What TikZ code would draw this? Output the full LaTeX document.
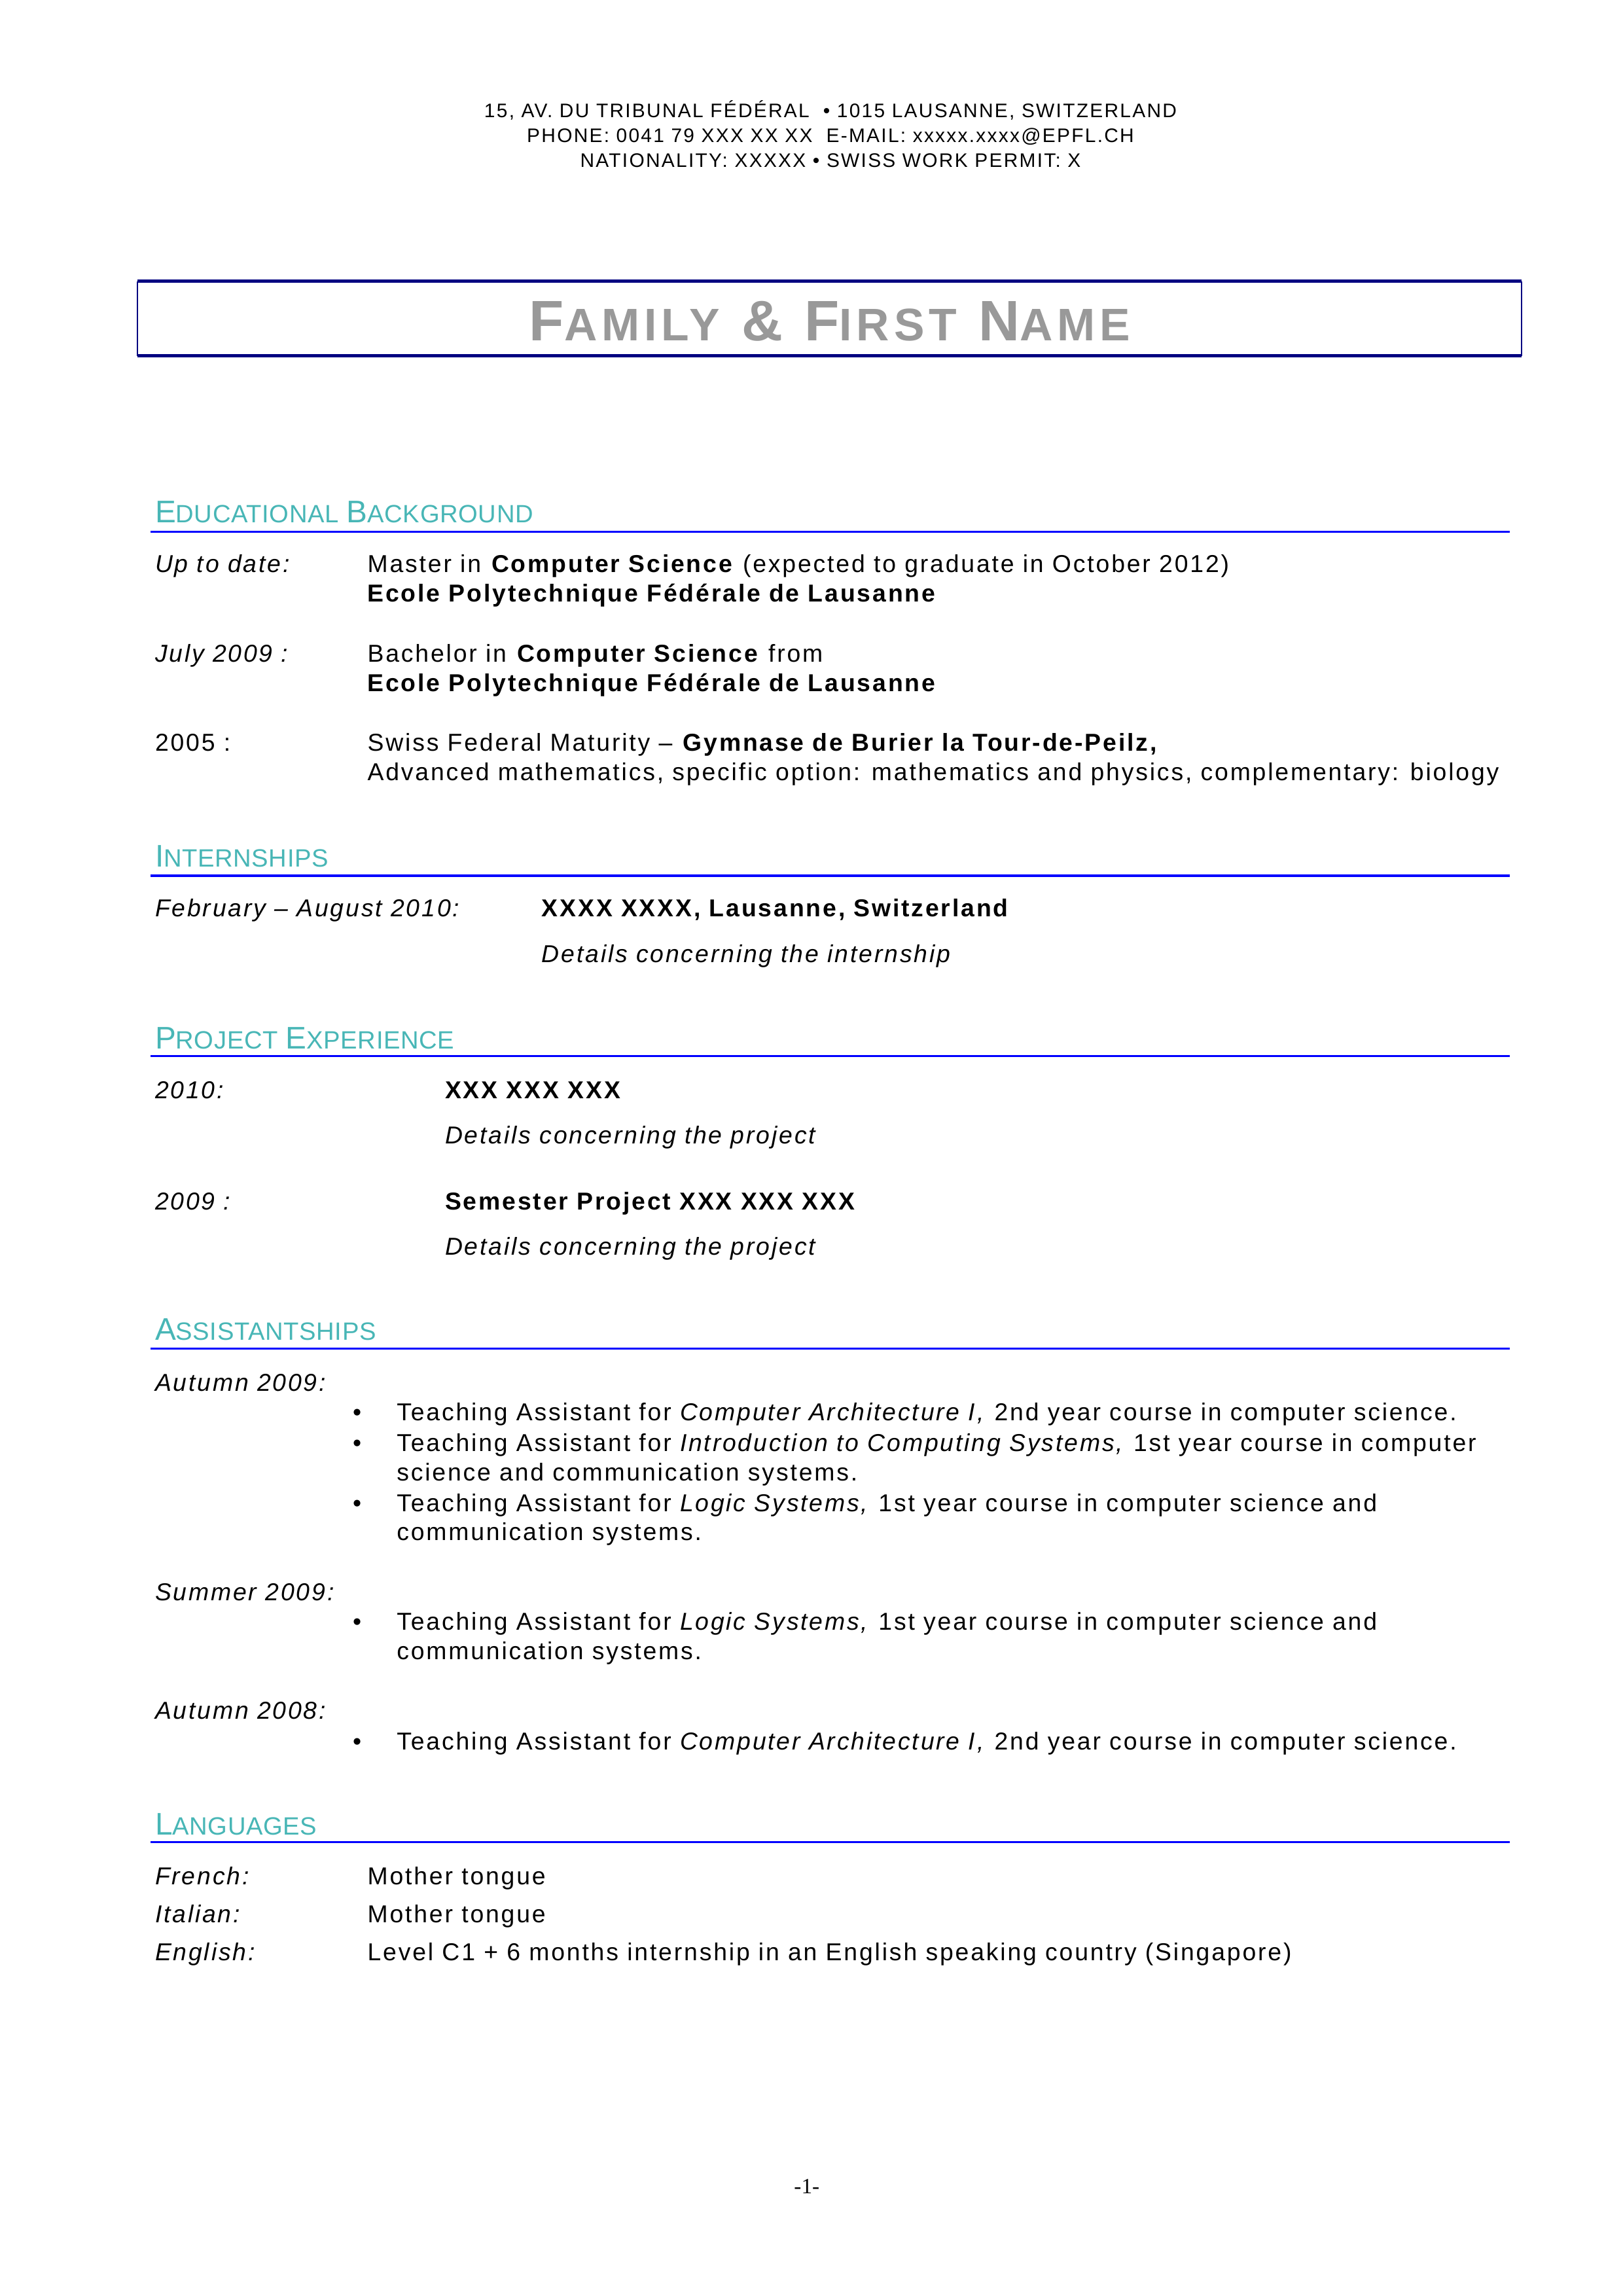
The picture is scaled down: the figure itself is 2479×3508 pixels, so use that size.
\documentclass[tikz,border=0pt]{standalone}
\usepackage{fontspec}
\setmainfont{Liberation Sans}[LetterSpace=7.6]
\newfontfamily\namefont{Liberation Sans}[LetterSpace=10]
\newfontfamily\headfont{Liberation Sans}[LetterSpace=1.6]
\newfontfamily\pgfont{Liberation Serif}
\definecolor{teal2}{RGB}{72,182,182}
\definecolor{navy2}{RGB}{0,0,128}
\definecolor{rule2}{RGB}{0,0,255}
\definecolor{gray2}{RGB}{153,153,153}
\newcommand{\HB}[1]{{\fontsize{11.5}{12}\selectfont #1}}
\newcommand{\HS}[1]{{\fontsize{9.2}{12}\selectfont #1}}
\newcommand{\NB}[1]{{\fontsize{21}{22}\selectfont #1}}
\newcommand{\NS}[1]{{\fontsize{16.8}{22}\selectfont #1}}
\newcommand{\NSP}{\NB{\ }}
\tikzset{
  every node/.style={inner sep=0pt, outer sep=0pt, font=\fontsize{9}{11}\selectfont},
  txt/.style={anchor=base west},
  lbl/.style={anchor=base west, font=\fontsize{9}{11}\selectfont\itshape},
  hdr/.style={anchor=base, font=\fontsize{7.2}{9}\selectfont},
  sec/.style={anchor=base west, text=teal2, font=\headfont},
  secrule/.style={draw=rule2, line width=0.75pt},
  boxh/.style={draw=navy2, line width=1.1pt},
  boxv/.style={draw=navy2, line width=0.5pt},
}
\begin{document}
\begin{tikzpicture}[x=0.24088pt, y=-0.24088pt]
\useasboundingbox (0,0) rectangle (2479,3508);
% header
\node[hdr] (h1) at (1269,180) {15, AV. DU TRIBUNAL FÉDÉRAL \ • 1015 LAUSANNE, SWITZERLAND};
\node[hdr] (h2) at (1269,218) {PHONE: 0041 79 XXX XX XX \ E-MAIL: xxxxx.xxxx@EPFL.CH};
\node[hdr] (h3) at (1269,256) {NATIONALITY: XXXXX • SWISS WORK PERMIT: X};
% name box
\draw[boxh] (210.3,429.6) -- (2324.7,429.6);
\draw[boxh] (210.3,543.7) -- (2324.7,543.7);
\draw[boxv] (210.3,429.6) -- (210.3,543.7);
\draw[boxv] (2324.7,429.6) -- (2324.7,543.7);
\node[anchor=base, text=gray2, font=\namefont\bfseries] (name) at (1268,521) {\NB{F}\NS{AMILY}\NSP\NB{\&}\NSP\NB{F}\NS{IRST}\NSP\NB{N}\NS{AME}};
% Educational background
\node[sec] (s1) at (237,798.8) {\HB{E}\HS{DUCATIONAL} \HB{B}\HS{ACKGROUND}};
\draw[secrule] (230.4,812.2) -- (2306.8,812.2);
\node[lbl] (e1l) at (237,874.8) {Up to date:};
\node[txt] (e1a) at (561.6,874.8) {Master in \textbf{Computer Science} (expected to graduate in October 2012)};
\node[txt] (e1b) at (561.6,919.6) {\textbf{Ecole Polytechnique Fédérale de Lausanne}};
\node[lbl] (e2l) at (237,1011.3) {July 2009 :};
\node[txt] (e2a) at (561.6,1011.3) {Bachelor in \textbf{Computer Science} from};
\node[txt] (e2b) at (561.6,1056.1) {\textbf{Ecole Polytechnique Fédérale de Lausanne}};
\node[txt] (e3l) at (237,1147.8) {2005 :};
\node[txt] (e3a) at (561.6,1147.8) {Swiss Federal Maturity – \textbf{Gymnase de Burier la Tour-de-Peilz,}};
\node[txt] (e3b) at (561.6,1192.5) {Advanced mathematics, specific option: mathematics and physics, complementary: biology};
% Internships
\node[sec] (s2) at (237,1324.5) {\HB{I}\HS{NTERNSHIPS}};
\draw[secrule] (230.4,1338) -- (2306.8,1338);
\node[lbl] (i1l) at (237,1400.6) {February – August 2010:};
\node[txt] (i1a) at (827.8,1400.6) {\textbf{XXXX XXXX, Lausanne, Switzerland}};
\node[lbl] (i1b) at (827.8,1470) {Details concerning the internship};
% Project experience
\node[sec] (s3) at (237,1602) {\HB{P}\HS{ROJECT} \HB{E}\HS{XPERIENCE}};
\draw[secrule] (230.4,1613.2) -- (2306.8,1613.2);
\node[lbl] (p1l) at (237,1678.1) {2010:};
\node[txt] (p1a) at (680.2,1678.1) {\textbf{XXX XXX XXX}};
\node[lbl] (p1b) at (680.2,1747.4) {Details concerning the project};
\node[lbl] (p2l) at (237,1848.1) {2009 :};
\node[txt] (p2a) at (680.2,1848.1) {\textbf{Semester Project XXX XXX XXX}};
\node[lbl] (p2b) at (680.2,1917.5) {Details concerning the project};
% Assistantships
\node[sec] (s4) at (237,2047.2) {\HB{A}\HS{SSISTANTSHIPS}};
\draw[secrule] (230.4,2060.6) -- (2306.8,2060.6);
\node[lbl] (a1l) at (237,2125.5) {Autumn 2009:};
\node[txt] (a1b1) at (539.2,2170.3) {•};
\node[txt] (a1t1) at (606.3,2170.3) {Teaching Assistant for \textit{Computer Architecture I,} 2nd year course in computer science.};
\node[txt] (a1b2) at (539.2,2217.3) {•};
\node[txt] (a1t2) at (606.3,2217.3) {Teaching Assistant for \textit{Introduction to Computing Systems,} 1st year course in computer};
\node[txt] (a1t2b) at (606.3,2262) {science and communication systems.};
\node[txt] (a1b3) at (539.2,2309) {•};
\node[txt] (a1t3) at (606.3,2309) {Teaching Assistant for \textit{Logic Systems,} 1st year course in computer science and};
\node[txt] (a1t3b) at (606.3,2353.7) {communication systems.};
\node[lbl] (a2l) at (237,2445.5) {Summer 2009:};
\node[txt] (a2b1) at (539.2,2490.2) {•};
\node[txt] (a2t1) at (606.3,2490.2) {Teaching Assistant for \textit{Logic Systems,} 1st year course in computer science and};
\node[txt] (a2t1b) at (606.3,2535) {communication systems.};
\node[lbl] (a3l) at (237,2626.7) {Autumn 2008:};
\node[txt] (a3b1) at (539.2,2673.7) {•};
\node[txt] (a3t1) at (606.3,2673.7) {Teaching Assistant for \textit{Computer Architecture I,} 2nd year course in computer science.};
% Languages
\node[sec] (s5) at (237,2803.5) {\HB{L}\HS{ANGUAGES}};
\draw[secrule] (230.4,2814.7) -- (2306.8,2814.7);
\node[lbl] (l1l) at (237,2879.5) {French:};
\node[txt] (l1a) at (561.6,2879.5) {Mother tongue};
\node[lbl] (l2l) at (237,2937.7) {Italian:};
\node[txt] (l2a) at (561.6,2937.7) {Mother tongue};
\node[lbl] (l3l) at (237,2995.9) {English:};
\node[txt] (l3a) at (561.6,2995.9) {Level C1 + 6 months internship in an English speaking country (Singapore)};
% page number
\node[anchor=base, font=\pgfont\fontsize{8}{9}\selectfont] (pg) at (1232.8,3351.6) {-1-};
\end{tikzpicture}
\end{document}
